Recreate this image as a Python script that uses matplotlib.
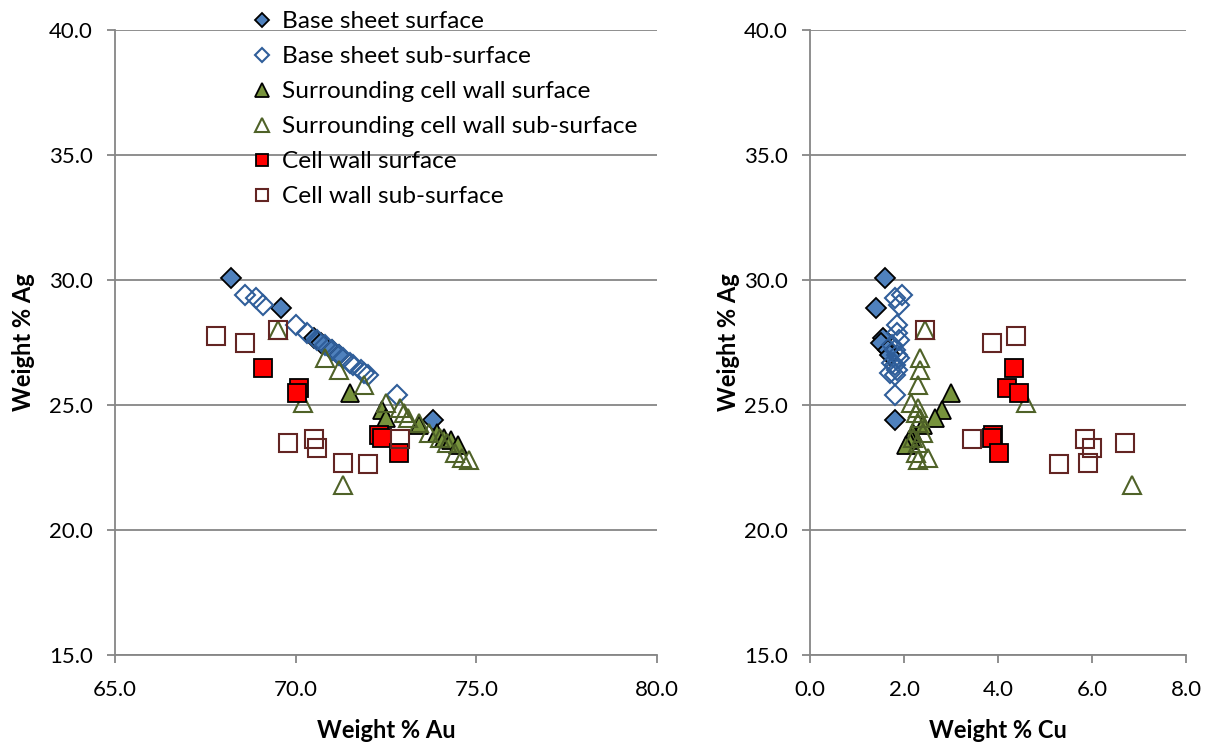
import matplotlib
matplotlib.use("Agg")
import matplotlib.pyplot as plt

# weight % values per analysis point
base_surf_au = [68.2, 69.6, 70.5, 70.7, 71.0, 71.2, 73.8]
base_surf_ag = [30.1, 28.9, 27.7, 27.5, 27.2, 27.0, 24.4]
base_surf_cu = [1.6, 1.4, 1.55, 1.5, 1.65, 1.7, 1.8]

base_sub_au = [68.6, 68.9, 69.1, 70.0, 70.3, 70.6, 70.8, 71.0, 71.2, 71.3, 71.5, 71.6, 71.8, 71.9, 72.0, 72.8]
base_sub_ag = [29.4, 29.3, 29.0, 28.2, 27.9, 27.6, 27.4, 27.2, 27.0, 26.9, 26.7, 26.6, 26.4, 26.3, 26.2, 25.4]
base_sub_cu = [1.95, 1.8, 1.9, 1.85, 1.85, 1.9, 1.75, 1.8, 1.85, 1.9, 1.75, 1.8, 1.85, 1.7, 1.8, 1.8]

surr_surf_au = [71.5, 72.4, 72.5, 73.4, 73.9, 74.1, 74.3, 74.5]
surr_surf_ag = [25.5, 24.8, 24.5, 24.2, 23.9, 23.7, 23.6, 23.4]
surr_surf_cu = [3.0, 2.8, 2.65, 2.4, 2.2, 2.15, 2.1, 2.05]

surr_sub_au = [69.5, 70.2, 70.8, 71.2, 71.3, 71.9, 72.5, 72.9, 73.0, 73.1, 73.4, 73.7, 74.0, 74.2, 74.4, 74.6, 74.8]
surr_sub_ag = [28.0, 25.1, 26.9, 26.4, 21.8, 25.8, 25.1, 24.9, 24.7, 24.5, 24.3, 23.9, 23.7, 23.5, 23.1, 22.9, 22.8]
surr_sub_cu = [2.45, 4.6, 2.35, 2.35, 6.85, 2.3, 2.15, 2.3, 2.25, 2.35, 2.3, 2.4, 2.2, 2.3, 2.25, 2.5, 2.3]

cell_surf_au = [69.1, 70.1, 70.05, 72.3, 72.4, 72.85]
cell_surf_ag = [26.5, 25.7, 25.5, 23.8, 23.7, 23.1]
cell_surf_cu = [4.35, 4.2, 4.45, 3.9, 3.88, 4.03]

cell_sub_au = [67.8, 68.6, 69.5, 69.8, 70.5, 70.6, 71.3, 72.0, 72.9]
cell_sub_ag = [27.75, 27.5, 28.0, 23.5, 23.65, 23.3, 22.7, 22.65, 23.65]
cell_sub_cu = [4.38, 3.87, 2.45, 6.7, 5.85, 6.01, 5.92, 5.3, 3.45]

labels = ["Base sheet surface", "Base sheet sub-surface",
          "Surrounding cell wall surface", "Surrounding cell wall sub-surface",
          "Cell wall surface", "Cell wall sub-surface"]

plt.rcParams['font.family'] = ['Lato', 'DejaVu Sans']
GRID = '#868686'

styles = [
    dict(marker='D', ms=10.5, mfc='#4F81BD', mec='black', mew=1.3),
    dict(marker='D', ms=10.5, mfc='none', mec='#2F5E9A', mew=1.5),
    dict(marker='^', ms=13.5, mfc='#77933C', mec='black', mew=1.3),
    dict(marker='^', ms=13.5, mfc='none', mec='#4F6228', mew=1.5),
    dict(marker='s', ms=12.5, mfc='#FF0000', mec='black', mew=1.3),
    dict(marker='s', ms=12.5, mfc='none', mec='#632523', mew=1.5),
]

fig = plt.figure(figsize=(12.13, 7.46), dpi=100)
ax1 = fig.add_axes([115 / 1213, 91 / 746, 542 / 1213, 625 / 746])
ax2 = fig.add_axes([810 / 1213, 91 / 746, 376 / 1213, 625 / 746])

au = [base_surf_au, base_sub_au, surr_surf_au, surr_sub_au, cell_surf_au, cell_sub_au]
ag = [base_surf_ag, base_sub_ag, surr_surf_ag, surr_sub_ag, cell_surf_ag, cell_sub_ag]
cu = [base_surf_cu, base_sub_cu, surr_surf_cu, surr_sub_cu, cell_surf_cu, cell_sub_cu]

handles = []
for i in range(6):
    h, = ax1.plot(au[i], ag[i], ls='none', label=labels[i], zorder=3 + i, **styles[i])
    ax2.plot(cu[i], ag[i], ls='none', zorder=3 + i, **styles[i])
    handles.append(h)

def style_axis(ax, xlim, xticks, xlabel, ylabel_x):
    ax.set_xlim(*xlim)
    ax.set_ylim(15, 40)
    ax.set_xticks(xticks)
    ax.set_yticks([15, 20, 25, 30, 35, 40])
    ax.xaxis.set_major_formatter(matplotlib.ticker.FormatStrFormatter('%.1f'))
    ax.yaxis.set_major_formatter(matplotlib.ticker.FormatStrFormatter('%.1f'))
    ax.grid(axis='y', color=GRID, lw=1.3, zorder=0)
    ax.set_axisbelow(True)
    for s in ['top', 'right']:
        ax.spines[s].set_visible(False)
    for s in ['left', 'bottom']:
        ax.spines[s].set_color(GRID)
        ax.spines[s].set_linewidth(1.3)
    ax.tick_params(direction='out', length=6, width=1.3, color=GRID,
                   labelsize=16, pad=10)
    ax.tick_params(axis='x', pad=12)
    ax.set_xlabel(xlabel, fontsize=17, fontweight='bold')
    ax.set_ylabel('Weight % Ag', fontsize=17, fontweight='bold')
    ax.xaxis.set_label_coords(0.5, -0.103)
    ax.yaxis.set_label_coords(ylabel_x, 0.5)

style_axis(ax1, (65, 80), [65, 70, 75, 80], 'Weight % Au', -0.147)
style_axis(ax2, (0, 8), [0, 2, 4, 6, 8], 'Weight % Cu', -0.185)

fig.legend(handles=handles, loc='upper left', bbox_to_anchor=(250 / 1213, 1 - 11 / 746),
           frameon=False, fontsize=17.6, markerscale=0.72, handlelength=1.0,
           handletextpad=0.3, labelspacing=0.57, borderpad=0, borderaxespad=0)

fig.savefig('out.png', dpi=100)
